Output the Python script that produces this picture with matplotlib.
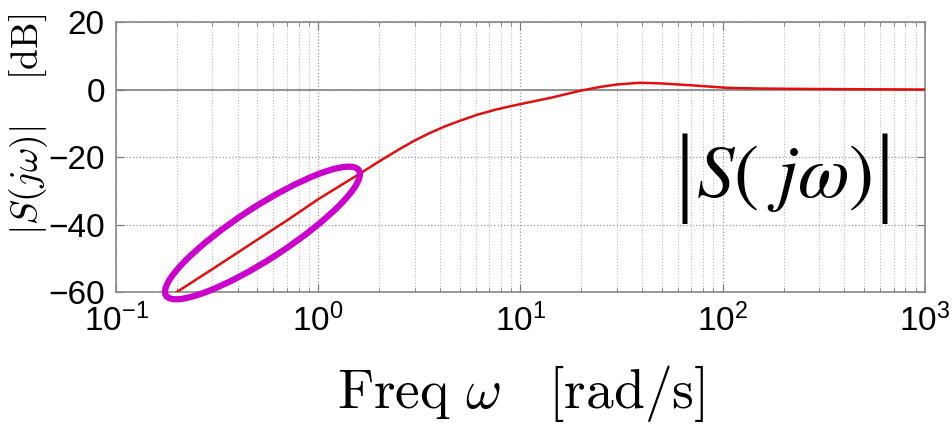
import numpy as np
import matplotlib
matplotlib.use('Agg')
import matplotlib.pyplot as plt
from matplotlib.patches import Ellipse
from matplotlib.transforms import ScaledTranslation, IdentityTransform

# values
omega = [0.2, 0.3, 0.5, 0.7, 1.0, 1.3, 1.6, 2.0, 2.5, 3.0, 3.5, 4.2, 5.0, 6.1,
         7.5, 9.0, 11, 14, 17, 20, 25, 30, 39, 50, 72, 105, 150, 224, 400, 1000]
mag_db = [-60, -53.2, -44.5, -38.8, -32.5, -28.3, -25.0, -21.3, -17.8, -15.1,
          -13.1, -11.0, -9.3, -7.5, -6.0, -4.9, -3.8, -2.5, -1.3, -0.3,
          0.8, 1.5, 2.0, 1.8, 1.2, 0.5, 0.3, 0.2, 0.1, 0.0]
yticks = [-60, -40, -20, 0, 20]
xticks = [0.1, 1, 10, 100, 1000]

# ellipse marking the low frequency part (centre in data units, size in inches)
ell_center = (0.53, -42.5)
ell_size = (2.3, 0.52)
ell_angle = 33

plt.rcParams['font.family'] = ['Liberation Sans', 'DejaVu Sans']

fig = plt.figure(figsize=(9.53, 4.30), dpi=100)
ax = fig.add_axes([0.1217, 0.3209, 0.8489, 0.6279])

ax.set_xscale('log')
ax.set_xlim(0.1, 1000)
ax.set_ylim(-60, 20)
ax.set_xticks(xticks)
ax.set_yticks(yticks)

ax.grid(True, which='major', linestyle=':', color='#999999', linewidth=0.9)
ax.grid(True, which='minor', axis='x', linestyle=':', color='#bbbbbb', linewidth=0.8)
ax.axhline(0, color='#888888', linewidth=1.3, zorder=1)

ax.plot(omega, mag_db, color='#e01010', linewidth=1.8, zorder=3)

ell = Ellipse((0, 0), ell_size[0], ell_size[1], angle=ell_angle, fill=False,
              edgecolor='#cc00cc', linewidth=4.5, zorder=4, clip_on=False,
              transform=fig.dpi_scale_trans + ScaledTranslation(ell_center[0], ell_center[1], ax.transData))
ax.add_patch(ell)

for sp in ax.spines.values():
    sp.set_color('#888888')
    sp.set_linewidth(1.2)
ax.tick_params(which='both', direction='in', top=True, right=True, color='#777777')
ax.tick_params(which='major', length=6, labelsize=24, pad=8)
ax.tick_params(which='minor', length=3)

ax.set_xlabel(r'$\mathrm{Freq}\ \omega\quad[\mathrm{rad/s}]$', fontsize=40,
              math_fontfamily='cm', labelpad=18)
ax.set_ylabel(r'$|S(j\omega)|\quad\ [\mathrm{dB}]$', fontsize=27, math_fontfamily='cm')
ax.yaxis.set_label_coords(-0.082, 0.62)

# big |S(jw)| label: core text, then tall bars placed around it
core = ax.text(0.826, 0.42, r'$S(\ j\omega)$', transform=ax.transAxes,
               fontsize=54, math_fontfamily='stix', ha='center', va='center')
fig.canvas.draw()
bb = core.get_window_extent()
cy = (bb.y0 + bb.y1) / 2
for xb, ha in [(bb.x0 - 2, 'right'), (bb.x1 + 2, 'left')]:
    ax.text(xb, cy, '|', transform=IdentityTransform(), fontsize=72,
            family='Liberation Serif', ha=ha, va='center')

fig.savefig('out.png', dpi=100)
